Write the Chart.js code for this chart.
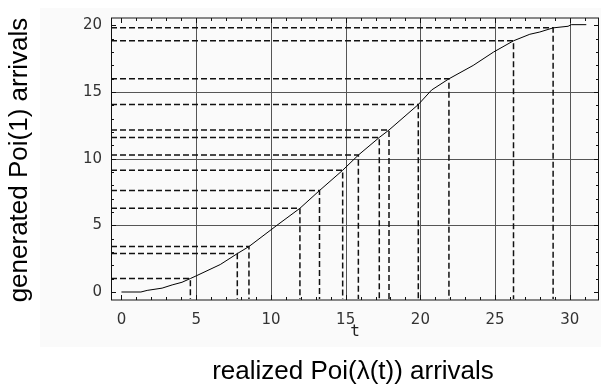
<!DOCTYPE html>
<html>
<head>
<meta charset="utf-8">
<script src="https://cdn.jsdelivr.net/npm/chart.js@4/dist/chart.umd.min.js"></script>
<style>
  html, body { margin: 0; padding: 0; background: #fff; }
  canvas { display: block; }
</style>
</head>
<body>
<canvas id="chart" width="601" height="387"></canvas>
<script>
// cumulative intensity curve
const curveT = [0, 1.3, 1.72, 2.72, 3.39, 4.05, 4.61, 5.0, 6.61, 7.75, 8.53, 10.4, 11.94, 13.25, 14.8,
  15.85, 17.25, 17.9, 19.86, 20.75, 21.91, 23.53, 24.9, 26.23, 27.32, 27.99, 28.88, 29.88, 30.1, 31.1];
const curveN = [0, 0, 0.12, 0.29, 0.53, 0.73, 1.01, 1.21, 2.06, 2.88, 3.41, 5.0, 6.28, 7.61, 9.13,
  10.27, 11.59, 12.15, 14.06, 15.15, 15.99, 16.99, 18.0, 18.84, 19.33, 19.5, 19.81, 19.93, 20.05, 20.05];

// generated unit-rate arrivals and the realized times they map to
const arrivalN = [1.01, 2.88, 3.41, 6.28, 7.61, 9.13, 10.27, 11.59, 12.15, 14.06, 15.99, 18.84, 19.81];
const arrivalT = [4.61, 7.75, 8.53, 11.94, 13.25, 14.80, 15.85, 17.25, 17.90, 19.86, 21.91, 26.23, 28.88];

const xTicks = [0, 5, 10, 15, 20, 25, 30];
const yTicks = [0, 5, 10, 15, 20];
const xGrid = [5, 10, 15, 20, 25, 30];
const yGrid = [5, 10, 15];

const X_MIN = -0.7, X_MAX = 31.95;
const Y_MIN = -0.6, Y_MAX = 20.55;

const curveData = curveT.map((t, i) => ({ x: t, y: curveN[i] }));

// dashed guides: from the left frame across to the curve, then down to the bottom
const guideData = [];
arrivalT.forEach((t, i) => {
  guideData.push({ x: X_MIN, y: arrivalN[i] });
  guideData.push({ x: t, y: arrivalN[i] });
  guideData.push({ x: t, y: Y_MIN });
  guideData.push({ x: t, y: null });
});

const framePlugin = {
  id: 'frame',
  beforeDraw(chart) {
    const { ctx, chartArea: a, scales: { x, y } } = chart;
    ctx.save();
    ctx.fillStyle = '#fafafa';
    ctx.fillRect(40, 8, 561, 339);
    ctx.strokeStyle = '#555';
    ctx.lineWidth = 1;
    ctx.beginPath();
    xGrid.forEach(v => {
      const px = Math.round(x.getPixelForValue(v)) + 0.5;
      ctx.moveTo(px, a.top); ctx.lineTo(px, a.bottom);
    });
    yGrid.forEach(v => {
      const py = Math.round(y.getPixelForValue(v)) + 0.5;
      ctx.moveTo(a.left, py); ctx.lineTo(a.right, py);
    });
    ctx.stroke();
    ctx.restore();
  },
  afterDraw(chart) {
    const { ctx, chartArea: a, scales: { x, y } } = chart;
    ctx.save();
    // frame
    ctx.strokeStyle = '#888';
    ctx.lineWidth = 2;
    ctx.beginPath();
    ctx.moveTo(a.left, a.bottom); ctx.lineTo(a.right, a.bottom);
    ctx.moveTo(a.left, a.top); ctx.lineTo(a.right, a.top);
    ctx.stroke();
    ctx.strokeStyle = '#111';
    ctx.lineWidth = 1;
    ctx.beginPath();
    ctx.moveTo(a.left + 0.5, a.top); ctx.lineTo(a.left + 0.5, a.bottom);
    ctx.moveTo(a.right - 0.5, a.top); ctx.lineTo(a.right - 0.5, a.bottom);
    // tick marks inside the frame
    for (let v = 0; v <= 31; v++) {
      const len = v % 5 === 0 ? 5 : 3;
      const px = Math.round(x.getPixelForValue(v)) + 0.5;
      ctx.moveTo(px, a.bottom); ctx.lineTo(px, a.bottom - len);
      ctx.moveTo(px, a.top); ctx.lineTo(px, a.top + len);
    }
    for (let v = 0; v <= 20; v++) {
      const len = v % 5 === 0 ? 5 : 3;
      const py = Math.round(y.getPixelForValue(v)) + 0.5;
      ctx.moveTo(a.left, py); ctx.lineTo(a.left + len, py);
      ctx.moveTo(a.right, py); ctx.lineTo(a.right - len, py);
    }
    ctx.stroke();

    // axis labels
    ctx.fillStyle = '#222';
    ctx.textAlign = 'center';
    ctx.textBaseline = 'middle';
    ctx.font = '16px "DejaVu Sans Mono"';
    ctx.fillText('t', (a.left + a.right) / 2, 332);
    ctx.fillStyle = '#000';
    ctx.font = '26px "Liberation Sans"';
    ctx.fillText('realized Poi(\u03bb(t)) arrivals', 353, 372);
    ctx.translate(20, 160);
    ctx.rotate(-Math.PI / 2);
    ctx.fillText('generated Poi(1) arrivals', 0, 0);
    ctx.restore();
  }
};

new Chart(document.getElementById('chart'), {
  type: 'line',
  data: {
    datasets: [
      {
        data: guideData,
        borderColor: '#111',
        borderWidth: 1.5,
        borderDash: [6, 3],
        pointRadius: 0,
        spanGaps: false,
        tension: 0
      },
      {
        data: curveData,
        borderColor: '#000',
        borderWidth: 1,
        pointRadius: 0,
        tension: 0
      }
    ]
  },
  options: {
    responsive: false,
    animation: false,
    devicePixelRatio: 1,
    layout: { padding: { top: 8, right: 2, left: 0, bottom: 0 } },
    plugins: { legend: { display: false }, tooltip: { enabled: false } },
    scales: {
      x: {
        type: 'linear',
        min: X_MIN,
        max: X_MAX,
        grid: { display: false, drawTicks: false },
        border: { display: false },
        afterBuildTicks: s => { s.ticks = xTicks.map(v => ({ value: v })); },
        afterFit: s => { s.height = 87; },
        ticks: {
          padding: 11,
          color: '#333',
          font: { family: 'DejaVu Sans', size: 15 },
          maxRotation: 0
        }
      },
      y: {
        type: 'linear',
        min: Y_MIN,
        max: Y_MAX,
        grid: { display: false, drawTicks: false },
        border: { display: false },
        afterBuildTicks: s => { s.ticks = yTicks.map(v => ({ value: v })); },
        afterFit: s => { s.width = 111; },
        ticks: {
          padding: 9,
          color: '#333',
          font: { family: 'DejaVu Sans', size: 15 }
        }
      }
    }
  },
  plugins: [framePlugin]
});
</script>
</body>
</html>
